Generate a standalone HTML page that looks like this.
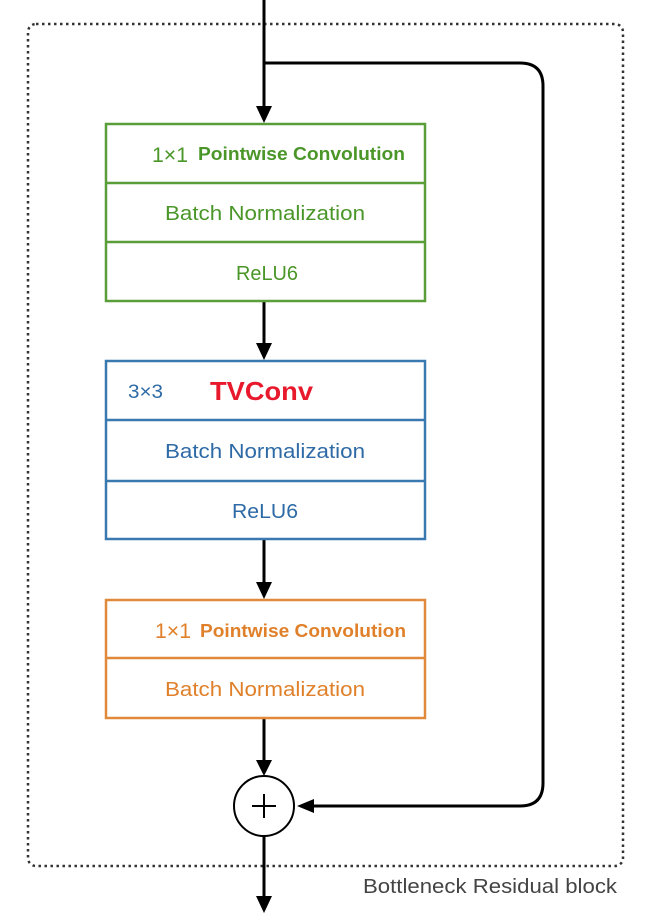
<!DOCTYPE html>
<html><head><meta charset="utf-8"><style>
html,body{margin:0;padding:0;background:#fff;}
svg{display:block;}
text{font-family:"Liberation Sans",sans-serif;}
</style></head><body>
<svg width="665" height="923" viewBox="0 0 665 923" xmlns="http://www.w3.org/2000/svg">
<rect x="28" y="24" width="595" height="842" rx="8" fill="none" stroke="#333" stroke-width="2.5" stroke-dasharray="2.5,3.5"/>
<g stroke="#000" stroke-width="3" fill="none">
<line x1="264" y1="0" x2="264" y2="108"/>
<line x1="264" y1="301" x2="264" y2="345"/>
<line x1="264" y1="539" x2="264" y2="584"/>
<line x1="264" y1="718" x2="264" y2="763"/>
<line x1="264" y1="836" x2="264" y2="898"/>
<path d="M264,63 H520 Q543,63 543,86 V783 Q543,806 520,806 H312"/>
</g>
<g fill="#000">
<path d="M256,106 L272,106 L264,123 z"/>
<path d="M256,343 L272,343 L264,360 z"/>
<path d="M256,582 L272,582 L264,599 z"/>
<path d="M256,760 L272,760 L264,776 z"/>
<path d="M256,896 L272,896 L264,913 z"/>
<path d="M314,799 L314,813 L297,806 z"/>
</g>
<circle cx="264" cy="806" r="30" fill="#fff" stroke="#000" stroke-width="2"/>
<line x1="252" y1="806" x2="276" y2="806" stroke="#000" stroke-width="2"/>
<line x1="264" y1="794" x2="264" y2="818" stroke="#000" stroke-width="2"/>
<g stroke="#5a9e3a" stroke-width="2.5" fill="none">
<rect x="106" y="124" width="319" height="177"/>
<line x1="106" y1="183" x2="425" y2="183"/><line x1="106" y1="242" x2="425" y2="242"/>
</g>
<text x="152" y="162" font-size="21" fill="#4a9628" textLength="36" lengthAdjust="spacingAndGlyphs">1×1</text>
<text x="198" y="160" font-size="18" font-weight="bold" fill="#4a9628" textLength="207" lengthAdjust="spacingAndGlyphs">Pointwise Convolution</text>
<text x="165" y="220" font-size="20" fill="#4a9628" textLength="200" lengthAdjust="spacingAndGlyphs">Batch Normalization</text>
<text x="236" y="280" font-size="20" fill="#4a9628" textLength="62" lengthAdjust="spacingAndGlyphs">ReLU6</text>
<g stroke="#3a78b0" stroke-width="2.5" fill="none">
<rect x="106" y="361" width="319" height="178"/>
<line x1="106" y1="420" x2="425" y2="420"/><line x1="106" y1="481" x2="425" y2="481"/>
</g>
<text x="128" y="398" font-size="19" fill="#2e6aa6" textLength="35" lengthAdjust="spacingAndGlyphs">3×3</text>
<text x="210" y="400" font-size="26" font-weight="bold" fill="#e8192c" textLength="103" lengthAdjust="spacingAndGlyphs">TVConv</text>
<text x="165" y="458" font-size="20" fill="#2e6aa6" textLength="200" lengthAdjust="spacingAndGlyphs">Batch Normalization</text>
<text x="232" y="518" font-size="20" fill="#2e6aa6" textLength="66" lengthAdjust="spacingAndGlyphs">ReLU6</text>
<g stroke="#e0893a" stroke-width="2.5" fill="none">
<rect x="106" y="600" width="319" height="118"/>
<line x1="106" y1="658" x2="425" y2="658"/>
</g>
<text x="155" y="638" font-size="21" fill="#e0802a" textLength="36" lengthAdjust="spacingAndGlyphs">1×1</text>
<text x="200" y="637" font-size="18" font-weight="bold" fill="#e0802a" textLength="206" lengthAdjust="spacingAndGlyphs">Pointwise Convolution</text>
<text x="165" y="696" font-size="20" fill="#e0802a" textLength="200" lengthAdjust="spacingAndGlyphs">Batch Normalization</text>
<text x="363" y="893" font-size="20" fill="#444" textLength="254" lengthAdjust="spacingAndGlyphs">Bottleneck Residual block</text>
</svg>
</body></html>
